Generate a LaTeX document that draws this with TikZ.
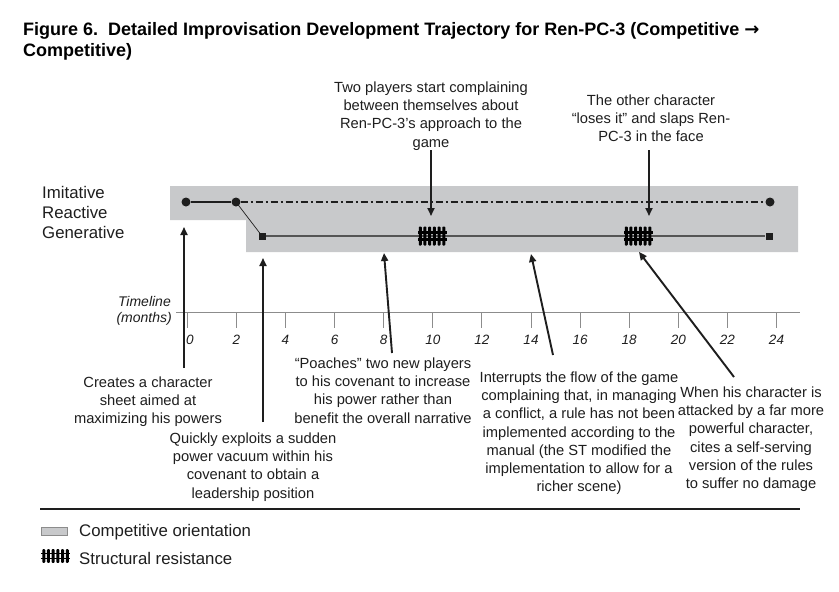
\documentclass[tikz,border=0pt]{standalone}
\usepackage{fontspec}
\setmainfont{Liberation Sans}
\newfontfamily\arrowfont{DejaVu Sans}
\usetikzlibrary{arrows.meta}
\definecolor{bandgray}{RGB}{200,201,203}
\definecolor{ink}{RGB}{30,30,30}
\definecolor{axisgray}{RGB}{140,140,140}
\definecolor{linegray}{RGB}{85,85,85}
\tikzset{
  x=1pt, y=-1pt,
  body/.style={font=\fontsize{14.7}{18.2}\selectfont, align=center, inner sep=0pt, anchor=north, text=ink},
  lbl/.style={font=\fontsize{16.8}{20}\selectfont, inner sep=0pt, anchor=base west, text=ink},
  tick/.style={font=\fontsize{13.5}{16}\selectfont\itshape, inner sep=0pt, anchor=base, text=ink},
  callout/.style={draw=ink, line width=1.9pt, -{Triangle[length=8pt,width=7pt]}},
  dotnode/.style={circle, fill=ink, inner sep=0pt, minimum size=9pt},
  sqnode/.style={rectangle, fill=ink, inner sep=0pt, minimum size=7pt},
  fence/.pic={
    \foreach \px in {-11.75,-7.05,-2.35,2.35,7.05,11.75}
      \fill[black, rounded corners=0.9pt] (\px-1.5,-9.5) rectangle (\px+1.5,9.5);
    \fill[black] (-14.5,-4.6) rectangle (14.5,-2.1);
    \fill[black] (-14.5,2.1) rectangle (14.5,4.6);
  }
}
\begin{document}
\begin{tikzpicture}
\useasboundingbox (0,0) rectangle (839,592);
\fill[white] (0,0) rectangle (839,592);

% title
\node[font=\fontsize{18}{21}\selectfont\bfseries, inner sep=0pt, anchor=base west] (title1) at (23,35) {Figure 6.\ \ Detailed Improvisation Development Trajectory for Ren-PC-3 (Competitive {\arrowfont\bfseries →}};
\node[font=\fontsize{18}{21}\selectfont\bfseries, inner sep=0pt, anchor=base west] (title2) at (23,56) {Competitive)};

% level labels
\node[lbl] (imit) at (42,198) {Imitative};
\node[lbl] (reac) at (42,218) {Reactive};
\node[lbl] (gene) at (42,238) {Generative};

% band
\fill[bandgray] (170,186) -- (798,186) -- (798,252) -- (246,252) -- (246,220) -- (170,220) -- cycle;

% trajectory
\node[dotnode] (d0) at (186,202) {};
\node[dotnode] (d2) at (236,202) {};
\node[dotnode] (d24) at (770,202) {};
\node[sqnode] (s3) at (262,236) {};
\node[sqnode] (s24) at (769,236) {};
\draw[ink, line width=1.8pt] (d0) -- (d2);
\draw[ink, line width=1.3pt, dash pattern=on 7pt off 3pt on 2pt off 3pt] (d2) -- (d24);
\draw[ink, line width=0.7pt] (d2.center) -- (s3.center);
\draw[linegray, line width=1.6pt] (s3) -- (s24);
\pic at (432,236) {fence};
\pic at (638,236) {fence};

% top callouts
\node[body] (t1) at (431,81.6) {Two players start complaining\\between themselves about\\Ren-PC-3’s approach to the\\game};
\node[body] (t2) at (651,94.6) {The other character\\“loses it” and slaps Ren-\\PC-3 in the face};
\coordinate (t1s) at (431,150);
\coordinate (t1e) at (431,216);
\coordinate (t2s) at (649,150);
\coordinate (t2e) at (649,216);
\draw[callout] (t1s) -- (t1e);
\draw[callout] (t2s) -- (t2e);

% timeline
\node[font=\fontsize{14}{16}\selectfont\itshape, inner sep=0pt, anchor=base east, text=ink] (tl1) at (171,306) {Timeline};
\node[font=\fontsize{14}{16}\selectfont\itshape, inner sep=0pt, anchor=base east, text=ink] (tl2) at (172,322) {(months)};
\coordinate (ax0) at (176,312);
\coordinate (ax1) at (800,312);
\draw[axisgray, line width=1pt] (ax0) -- (ax1);
\foreach \m in {0,2,...,24} {
  \draw[axisgray, line width=0.9pt] (187.3+24.55*\m,312) -- (187.3+24.55*\m,328);
}
\node[tick] (m0) at (190,344) {0};
\foreach \m in {2,4,...,24} {
  \node[tick] (m\m) at (187.3+24.55*\m,344) {\m};
}

% bottom callouts
\node[body] (b1) at (148,376.6) {Creates a character\\sheet aimed at\\maximizing his powers};
\node[body] (b2) at (253,432.6) {Quickly exploits a sudden\\power vacuum within his\\covenant to obtain a\\leadership position};
\node[body] (b3) at (383,357.6) {“Poaches” two new players\\to his covenant to increase\\his power rather than\\benefit the overall narrative};
\node[body] (b4) at (579,371.6) {Interrupts the flow of the game\\complaining that, in managing\\a conflict, a rule has not been\\implemented according to the\\manual (the ST modified the\\implementation to allow for a\\richer scene)};
\node[body] (b5) at (751,386.6) {When his character is\\attacked by a far more\\powerful character,\\cites a self-serving\\version of the rules\\to suffer no damage};

\coordinate (a1s) at (184,368);  \coordinate (a1e) at (184,227);
\coordinate (a2s) at (263,422);  \coordinate (a2e) at (263,258);
\coordinate (a3s) at (392,353);  \coordinate (a3e) at (384,253);
\coordinate (a4s) at (553,355);  \coordinate (a4e) at (531,254);
\coordinate (a5s) at (734,377);  \coordinate (a5e) at (639,252);
\draw[callout] (a1s) -- (a1e);
\draw[callout] (a2s) -- (a2e);
\draw[callout] (a3s) -- (a3e);
\draw[callout] (a4s) -- (a4e);
\draw[callout] (a5s) -- (a5e);

% rule and legend
\coordinate (r0) at (40,509);
\coordinate (r1) at (800,509);
\draw[ink, line width=2.2pt] (r0) -- (r1);
\node[draw=axisgray, line width=0.8pt, fill=bandgray, minimum width=26pt, minimum height=8pt, inner sep=0pt] (legband) at (54,531) {};
\node[lbl] (legbandt) at (79,536) {Competitive orientation};
\pic[xscale=1.0, yscale=0.72] at (55.5,556) {fence};
\node[lbl] (legfencet) at (79,564) {Structural resistance};
\end{tikzpicture}
\end{document}
